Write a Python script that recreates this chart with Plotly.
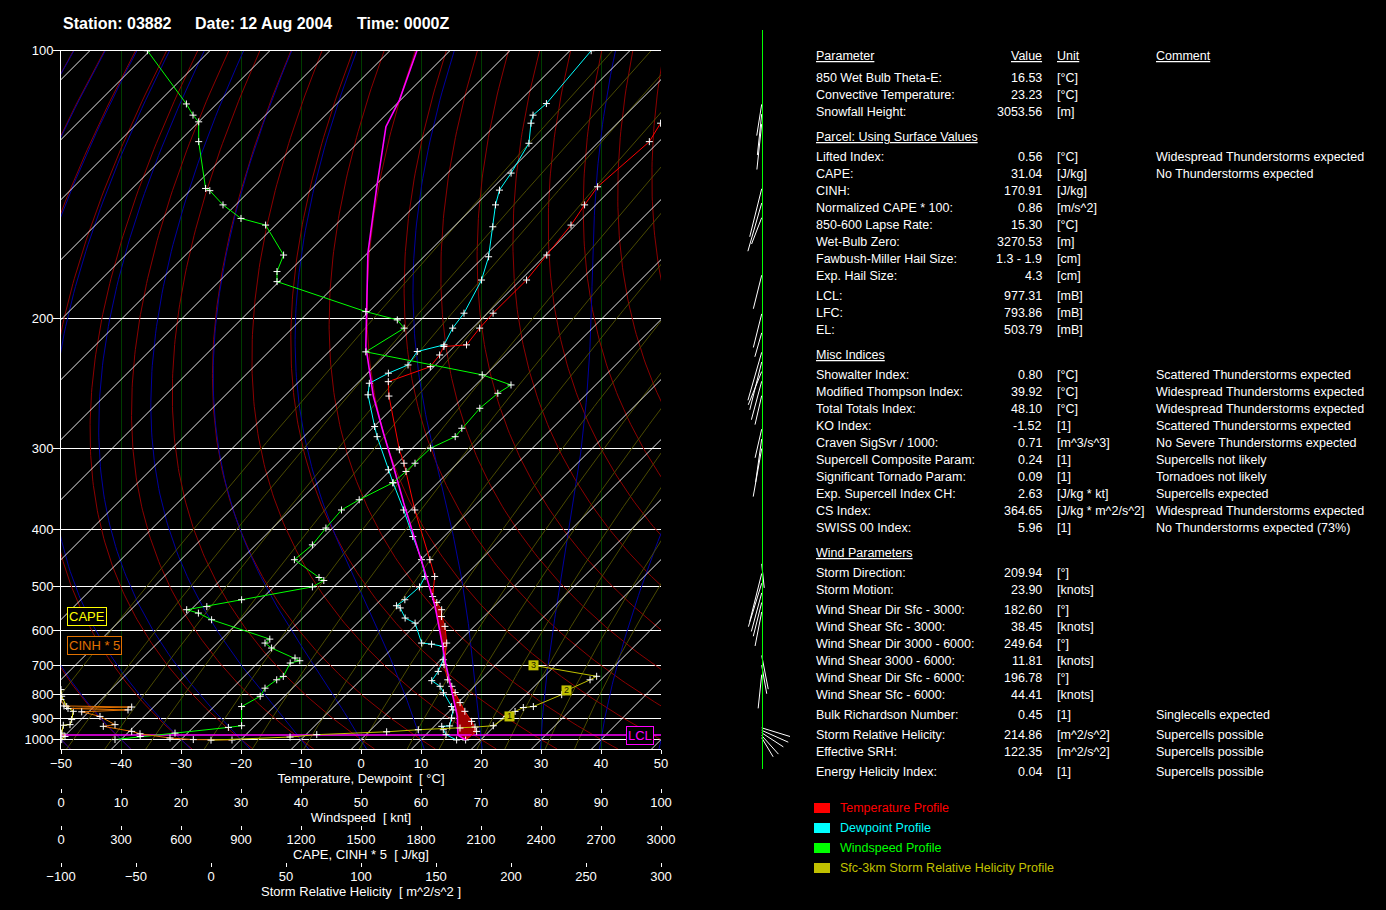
import numpy as np
import plotly.graph_objects as go

FONT = "Liberation Sans, Arial, sans-serif"
W, H = 1386, 910
# frame of the skew-T diagram in pixels
FL, FR, FT, FB = 61, 661, 50.7, 749
P_TOP, P_BOT = 100, 1050

# ---- sounding data ----
temp_p = [1002, 959, 912, 868, 832, 793, 770, 747, 697, 633,
          589, 565, 549, 533, 520, 479.6, 449, 372.5, 315.8, 301.7,
          253, 241.8, 230.8, 222.7, 217.1, 216.0, 205.5, 196.7, 178.9, 166.9,
          153.9, 145.9, 139.2, 124.2, 118.7, 100]
temp_t = [17.5, 17.9, 15.4, 12.6, 10.35, 7.85, 6.25, 4.5, 1.35, -1.8,
          -4.87, -7.08, -8.2, -10.2, -11.9, -14.9, -18.5, -29.3, -38.9, -41.9,
          -52.6, -55.1, -50.6, -51.0, -51.7, -48.2, -48.8, -49.05, -49.0, -49.8,
          -50.75, -51.85, -52.7, -51.6, -52.8, -54.0]

dew_p = [1002, 975, 951, 935, 933, 897, 862, 848, 794, 770,
         750, 718.6, 681.6, 642.5, 636, 633, 580.8, 568.5, 545, 540,
         526.8, 500, 479.6, 449, 411, 372.5, 338, 323, 288.7, 279.2,
         252, 243, 235.5, 229.6, 220.4, 216.0, 205.5, 196.7, 178.9, 167.7,
         154.6, 145.9, 140.4, 134.4, 124.7, 118.7, 116.4, 113.2, 100]
dew_t = [16.0, 13.35, 12.07, 11.25, 12.5, 11.5, 10.4, 9.6, 5.95, 4.3,
         1.97, 1.5, 0.4, -1.8, -4.15, -5.98, -10.4, -12.9, -15.4, -16.4,
         -16.0, -15.7, -16.5, -19.9, -25.2, -31.15, -37.45, -40.4, -47.8, -49.9,
         -56.3, -58.0, -56.5, -54.6, -55.3, -51.95, -53.3, -53.9, -56.5, -59.2,
         -63.5, -66.7, -68.5, -69.4, -71.4, -74.4, -75.4, -75.1, -76.45]

parcel_p = [1002, 977.31, 890, 758.6, 692, 632, 542, 493, 426.8, 363.3,
            315.8, 285.5, 253, 226.1, 217.1, 166.1, 139.2, 119.7, 112.2, 100]
parcel_t = [17.5, 15.4, 12.2, 5.4, 1.35, -2.65, -9.8, -14.8, -22.8, -32.3,
            -40.8, -47.3, -55.2, -62.1, -64.7, -79.9, -89.5, -98.0, -100.2, -105.5]

wind_p = [100, 113.3, 116.4, 118.3, 124.2, 139.8, 140.6, 145.9, 151.2, 153.9,
          166.9, 174.7, 179.7, 195.8, 200.6, 205.5, 220.6, 236.7, 244.3, 250.8,
          263.1, 280.8, 288.7, 300.0, 315.8, 324.9, 338, 359, 372.5, 398.1,
          424.1, 449, 481.5, 487.4, 500, 526.8, 542, 549, 556.8, 572.6,
          622.2, 633, 647, 676.3, 684.6, 691.8, 735.3, 747, 776.8, 807,
          848, 932, 940, 967.5, 984.3, 1000]
wind_kt = [14.4, 20.9, 22.0, 22.95, 22.95, 24.1, 24.8, 27.0, 30.0, 34.1,
           37.1, 36.0, 36.0, 50.8, 56.05, 57.2, 50.8, 70.2, 75.0, 72.8,
           69.8, 66.8, 65.7, 61.6, 59.0, 57.5, 55.3, 49.7, 46.75, 44.15,
           41.9, 38.9, 43.0, 43.8, 41.9, 30.1, 24.3, 20.95, 22.9, 25.1,
           34.8, 34.0, 35.1, 39.0, 39.8, 38.2, 37.05, 35.95, 34.0, 33.2,
           30.1, 30.1, 27.9, 19.0, 13.2, 9.0]

cape_p = [782, 807, 848, 868, 904, 927, 930, 967.5, 984, 1000]
cape_v = [0, 3.5, 28.5, 61.5, 53.5, 45, 11.5, 3.5, 20, 3.5]

cin5_p = [820, 845.5, 850, 856, 862, 870, 890, 927, 935, 959, 970.7, 992, 1000, 1002]
cin5_v = [0, 15, 353.5, 35, 335, 103.5, 195, 270, 211.5, 353.5, 395, 545, 661.5, 855]

srh_p = [1003, 987, 975, 961, 951, 943, 938.5, 932, 890, 868.5,
         852, 848, 801, 785, 747, 735, 699]
srh_v = [0.0, 52.7, 70.5, 117.1, 138.2, 166, 176, 188.2, 197.1, 202.7,
         208.2, 214.9, 233.8, 237.1, 252.7, 257.1, 214.9]
km_text = ["1", "2", "3"]
km_p = [890, 785, 699]
km_srh = [199, 237, 215]

LCL_P = 977.31
EL_P = 503.79

barb_p = [113.4, 116.1, 118.9, 139.9, 145.2, 150.9, 176.5, 197.1, 208.4, 220.9,
          227.5, 234.3, 241.5, 252.7, 281.6, 290.9, 300.4, 456.4, 473.9, 492.6,
          512.3, 532.8, 554.1, 668.8, 698.6, 729.4, 942, 954, 966, 979.5, 990.6]
barb_dir = [189, 186, 186, 194, 196, 201, 194, 194, 196, 196,
            194, 202, 195, 193, 193, 188, 190, 174, 194, 197,
            195, 194, 191, 169, 170, 186, 107, 114, 123, 138, 149]
barb_len = [31.7, 41.2, 45.9, 49.5, 50.1, 28.2, 34.6, 34.6, 24.9, 49.9,
            49.4, 35.9, 39.8, 29.7, 29.4, 43.8, 48.8, 24.1, 49.7, 45.5,
            39.9, 34.8, 34.7, 34.3, 29.0, 33.9, 29.6, 29.1, 25.8, 25.0, 22.2]

p_levels = [100, 200, 300, 400, 500, 600, 700, 800, 900, 1000]
height_levels = ["16510m", "12010m", "9350m", "7330m", "5670m", "4255m",
                 "3025m", "1936m", "950m"]

# ---- text panel ----
params = ["850 Wet Bulb Theta-E:", "Convective Temperature:", "Snowfall Height:",
          "Lifted Index:", "CAPE:", "CINH:", "Normalized CAPE * 100:",
          "850-600 Lapse Rate:", "Wet-Bulb Zero:", "Fawbush-Miller Hail Size:",
          "Exp. Hail Size:", "LCL:", "LFC:", "EL:",
          "Showalter Index:", "Modified Thompson Index:", "Total Totals Index:",
          "KO Index:", "Craven SigSvr / 1000:", "Supercell Composite Param:",
          "Significant Tornado Param:", "Exp. Supercell Index CH:", "CS Index:",
          "SWISS 00 Index:",
          "Storm Direction:", "Storm Motion:", "Wind Shear Dir Sfc - 3000:",
          "Wind Shear Sfc - 3000:", "Wind Shear Dir 3000 - 6000:",
          "Wind Shear 3000 - 6000:", "Wind Shear Dir Sfc - 6000:",
          "Wind Shear Sfc - 6000:", "Bulk Richardson Number:",
          "Storm Relative Helicity:", "Effective SRH:", "Energy Helicity Index:"]
values = ["16.53", "23.23", "3053.56",
          "0.56", "31.04", "170.91", "0.86", "15.30", "3270.53", "1.3 - 1.9",
          "4.3", "977.31", "793.86", "503.79",
          "0.80", "39.92", "48.10", "-1.52", "0.71", "0.24", "0.09", "2.63",
          "364.65", "5.96",
          "209.94", "23.90", "182.60", "38.45", "249.64", "11.81", "196.78",
          "44.41", "0.45", "214.86", "122.35", "0.04"]
units = ["[°C]", "[°C]", "[m]",
         "[°C]", "[J/kg]", "[J/kg]", "[m/s^2]", "[°C]", "[m]", "[cm]", "[cm]",
         "[mB]", "[mB]", "[mB]",
         "[°C]", "[°C]", "[°C]", "[1]", "[m^3/s^3]", "[1]", "[1]", "[J/kg * kt]",
         "[J/kg * m^2/s^2]", "[1]",
         "[°]", "[knots]", "[°]", "[knots]", "[°]", "[knots]", "[°]", "[knots]",
         "[1]", "[m^2/s^2]", "[m^2/s^2]", "[1]"]
comments = ["", "", "",
            "Widespread Thunderstorms expected", "No Thunderstorms expected",
            "", "", "", "", "", "", "", "", "",
            "Scattered Thunderstorms expected", "Widespread Thunderstorms expected",
            "Widespread Thunderstorms expected", "Scattered Thunderstorms expected",
            "No Severe Thunderstorms expected", "Supercells not likely",
            "Tornadoes not likely", "Supercells expected",
            "Widespread Thunderstorms expected", "No Thunderstorms expected (73%)",
            "", "", "", "", "", "", "", "",
            "Singlecells expected", "Supercells possible", "Supercells possible",
            "Supercells possible"]
row_y = [78, 95, 112, 157, 174, 191, 208, 225, 242, 259, 276, 296, 313, 330,
         375, 392, 409, 426, 443, 460, 477, 494, 511, 528,
         573, 590, 610, 627, 644, 661, 678, 695, 715, 735, 752, 772]
sections = [("Parameter", 56), ("Parcel: Using Surface Values", 137),
            ("Misc Indices", 355), ("Wind Parameters", 553)]

legend_names = ["Temperature Profile", "Dewpoint Profile", "Windspeed Profile",
                "Sfc-3km Storm Relative Helicity Profile"]

RED, CYAN, GREEN, OLIVE = "#ff0000", "#00ffff", "#00ff00", "#c0c000"
YELLOW, ORANGE, MAGENTA = "#ffff00", "#e07000", "#ff00ff"
legend_colors = [RED, CYAN, GREEN, OLIVE]


def yv(p):
    return np.asarray(p, dtype=float) ** -0.35


Y_TOP, Y_BOT = float(yv(P_TOP)), float(yv(P_BOT))
PXY = (FB - FT) / (Y_TOP - Y_BOT)        # px per y unit
SKEW = PXY / ((FR - FL) / 100.0)          # isotherms at 45 degrees


def skx(t, p):
    return np.asarray(t, dtype=float) + SKEW * (yv(p) - float(yv(1000)))


def xp(x):
    return x / W


def ypp(y):
    return 1 - y / H


def curves_trace(curves, color, width=1.0):
    xs, ys = [], []
    for t, p in curves:
        xs += list(skx(t, p)) + [None]
        ys += list(yv(p)) + [None]
    return go.Scatter(x=xs, y=ys, mode="lines", line=dict(color=color, width=width),
                      hoverinfo="skip", showlegend=False)


def moist_adiabat(t0, pres):
    def dtdp(t, p):
        es = 6.112 * np.exp(17.67 * (t - 273.15) / (t - 29.65))
        rs = 0.622 * es / (p - es)
        return (287.04 * t + 2.501e6 * rs) / (
            p * (1005.7 + 2.501e6 ** 2 * rs * 0.622 / (287.04 * t * t)))

    out = [t0 + 273.15]
    t = t0 + 273.15
    for pa, pb in zip(pres[:-1], pres[1:]):
        n = 4
        h = (pb - pa) / n
        p = pa
        for _ in range(n):
            k1 = dtdp(t, p)
            k2 = dtdp(t + h * k1 / 2, p + h / 2)
            k3 = dtdp(t + h * k2 / 2, p + h / 2)
            k4 = dtdp(t + h * k3, p + h)
            t += h * (k1 + 2 * k2 + 2 * k3 + k4) / 6
            p += h
        out.append(t)
    return np.array(out) - 273.15


pg = np.geomspace(P_TOP, P_BOT, 160)

fig = go.Figure()

# dry adiabats
dry = [(th * (pg / 1000.0) ** 0.2857 - 273.15, pg) for th in 273.15 + 10 * np.arange(-8, 15)]
fig.add_trace(curves_trace(dry, "#8c0000"))

# moist adiabats
pu = np.geomspace(1000, P_TOP, 120)
pdn = np.geomspace(1000, P_BOT, 6)
moist = []
for t0 in range(-60, 51, 10):
    tu = moist_adiabat(t0, pu)
    td = moist_adiabat(t0, pdn)
    moist.append((np.concatenate([td[::-1], tu[1:]]), np.concatenate([pdn[::-1], pu[1:]])))
fig.add_trace(curves_trace(moist, "#0000a0"))

# mixing ratio lines
mix = []
for w in [0.02, 0.05, 0.1, 0.2, 0.5, 1, 2, 4, 7, 10, 15, 20, 30, 40]:
    e = w * pg / (622.0 + w)
    le = np.log(e / 6.112)
    mix.append((243.5 * le / (17.67 - le), pg))
fig.add_trace(curves_trace(mix, "#4a4a00"))

# isotherms
iso = [(np.array([t, t]), np.array([P_BOT, P_TOP])) for t in range(-170, 51, 10)]
fig.add_trace(curves_trace(iso, "#ffffff", 0.9))

# CAPE / CIN areas between parcel and environment
pf = np.geomspace(temp_p[0], EL_P, 240)


def interp_t(pp, pdat, tdat):
    pdat = np.asarray(pdat, float)
    tdat = np.asarray(tdat, float)
    o = np.argsort(pdat)
    return np.interp(np.log(pp), np.log(pdat[o]), tdat[o])


x_env = skx(interp_t(pf, temp_p, temp_t), pf)
x_par = skx(interp_t(pf, parcel_p, parcel_t), pf)
x_max = np.maximum(x_env, x_par)
yf = yv(pf)
fig.add_trace(go.Scatter(x=np.concatenate([x_par, x_max[::-1]]),
                         y=np.concatenate([yf, yf[::-1]]), mode="lines", fill="toself",
                         fillcolor="#a00000", line=dict(width=0), hoverinfo="skip",
                         showlegend=False))
fig.add_trace(go.Scatter(x=np.concatenate([x_env, x_max[::-1]]),
                         y=np.concatenate([yf, yf[::-1]]), mode="lines", fill="toself",
                         fillcolor="#009000", line=dict(width=0), hoverinfo="skip",
                         showlegend=False))

tick_marker = dict(symbol="cross-thin", size=5, line=dict(color="white", width=1))


def profile(x, p, color, xaxis="x", marks=True, width=1.0):
    return go.Scatter(x=x, y=yv(p), xaxis=xaxis, yaxis="y",
                      mode="lines+markers" if marks else "lines",
                      line=dict(color=color, width=width),
                      marker=tick_marker, hoverinfo="skip", showlegend=False)


# LCL line
fig.add_trace(go.Scatter(x=[-50, 50], y=[float(yv(LCL_P))] * 2, mode="lines",
                         line=dict(color=MAGENTA, width=1.5), hoverinfo="skip",
                         showlegend=False))
fig.add_trace(profile(skx(dew_t, dew_p), dew_p, CYAN))
fig.add_trace(profile(skx(temp_t, temp_p), temp_p, RED))
fig.add_trace(profile(skx(parcel_t, parcel_p), parcel_p, MAGENTA, marks=False, width=1.6))

# windspeed, CAPE, CIN*5, SRH profiles on their own horizontal scales
fig.add_trace(profile(wind_kt, wind_p, GREEN, xaxis="x2"))
fig.add_trace(profile(cape_v, cape_p, YELLOW, xaxis="x3"))
fig.add_trace(profile(cin5_v, cin5_p, ORANGE, xaxis="x3"))
fig.add_trace(profile(srh_v, srh_p, OLIVE, xaxis="x4"))
fig.add_trace(go.Scatter(x=km_srh, y=yv(km_p), xaxis="x4", yaxis="y", mode="markers+text",
                         text=km_text, textposition="middle center",
                         textfont=dict(color="#202000", size=9, family=FONT),
                         marker=dict(symbol="square", size=10, color=OLIVE),
                         hoverinfo="skip", showlegend=False))

# wind barbs column
bx, by = [], []
for p, d, ln in zip(barb_p, barb_dir, barb_len):
    y0 = float(yv(p))
    bx += [0, ln * np.sin(np.radians(d)), None]
    by += [y0, y0 + ln * np.cos(np.radians(d)) / PXY, None]
fig.add_trace(go.Scatter(x=bx, y=by, xaxis="x5", yaxis="y3", mode="lines",
                         line=dict(color="white", width=1), hoverinfo="skip",
                         showlegend=False))

tickfont = dict(color="white", size=13, family=FONT)
titlefont = dict(color="white", size=13, family=FONT)
dom_x = [xp(FL), xp(FR)]
dom_y = [ypp(FB), ypp(FT)]


def bottom_axis(rng, step, title, y_px):
    return dict(overlaying="x", anchor="free", position=ypp(y_px), range=rng,
                tickvals=list(np.arange(rng[0], rng[1] + step / 2, step)),
                ticks="outside", ticklen=4, tickcolor="white", tickfont=tickfont,
                ticklabelstandoff=-2,
                showgrid=False, zeroline=False, showline=False,
                title=dict(text=title, font=titlefont, standoff=0))


annotations = []
# title
for txt, x0 in [("Station: 03882", 61), ("Date: 12 Aug 2004", 193), ("Time: 0000Z", 355)]:
    annotations.append(dict(text="<b>%s</b>" % txt, x=xp(x0), y=ypp(23), xref="paper",
                            yref="paper", xanchor="left", yanchor="middle",
                            showarrow=False, font=dict(color="white", size=16, family=FONT)))

tfont = dict(color="white", size=12.5, family=FONT)


def txt(text, x, y, anchor="left", font=tfont):
    annotations.append(dict(text=text, x=xp(x), y=ypp(y), xref="paper", yref="paper",
                            xanchor=anchor, yanchor="middle", showarrow=False, font=font))


for s, y in sections:
    txt("<u>%s</u>" % s, 814, y)
txt("<u>Value</u>", 1044, 56, "right")
txt("<u>Unit</u>", 1055, 56)
txt("<u>Comment</u>", 1154, 56)
for pname, val, unit, com, y in zip(params, values, units, comments, row_y):
    txt(pname, 814, y)
    txt(val, 1044, y, "right")
    txt(unit, 1055, y)
    if com:
        txt(com, 1154, y)

shapes = []
for i, (name, col) in enumerate(zip(legend_names, legend_colors)):
    yc = 808 + 20 * i
    shapes.append(dict(type="rect", xref="paper", yref="paper", x0=xp(814), x1=xp(830),
                       y0=ypp(yc + 5), y1=ypp(yc - 5), fillcolor=col, line=dict(width=0)))
    txt(name, 838, yc, font=dict(color=col, size=12.5, family=FONT))

# boxed labels
box = dict(xref="paper", yref="paper", xanchor="left", yanchor="middle",
           showarrow=False, bgcolor="black", borderwidth=1, borderpad=1)
annotations.append(dict(box, text="CAPE", x=xp(67), y=ypp(616), bordercolor=YELLOW,
                        font=dict(color=YELLOW, size=13, family=FONT)))
annotations.append(dict(box, text="CINH * 5", x=xp(67), y=ypp(645.5), bordercolor=ORANGE,
                        font=dict(color=ORANGE, size=13, family=FONT)))
annotations.append(dict(text="LCL", x=46.5, y=float(yv(LCL_P)), xref="x", yref="y",
                        xanchor="center", yanchor="middle", showarrow=False,
                        bgcolor="black", bordercolor=MAGENTA, borderwidth=1, borderpad=1,
                        font=dict(color=MAGENTA, size=13, family=FONT)))

fig.update_layout(
    width=W, height=H, autosize=False,
    margin=dict(l=0, r=0, t=0, b=0, pad=0, autoexpand=False),
    paper_bgcolor="black", plot_bgcolor="black",
    showlegend=False,
    font=dict(family=FONT, color="white"),
    xaxis=dict(domain=dom_x, range=[-50, 50], anchor="y",
               tickvals=list(range(-50, 51, 10)), ticks="outside", ticklen=4,
               tickcolor="white", tickfont=tickfont, ticklabelstandoff=-2,
               showgrid=True, gridcolor="#003c00",
               zeroline=False, showline=True, linecolor="white", linewidth=1, mirror=True,
               title=dict(text="Temperature, Dewpoint  [ °C]", font=titlefont, standoff=0)),
    xaxis2=bottom_axis([0, 100], 10, "Windspeed  [ knt]", 788),
    xaxis3=bottom_axis([0, 3000], 300, "CAPE, CINH * 5  [ J/kg]", 825),
    xaxis4=bottom_axis([-100, 300], 50, "Storm Relative Helicity  [ m^2/s^2 ]", 862),
    yaxis=dict(domain=dom_y, range=[Y_BOT, Y_TOP], anchor="x",
               tickvals=list(yv(p_levels)), ticktext=[str(p) for p in p_levels],
               ticks="outside", ticklen=7, tickcolor="white", tickfont=tickfont,
               ticklabelstandoff=-3,
               showgrid=True, gridcolor="white", gridwidth=1, zeroline=False,
               showline=True, linecolor="white", linewidth=1),
    yaxis2=dict(overlaying="y", side="right", anchor="x", range=[Y_BOT, Y_TOP],
                tickvals=list(yv(p_levels[:-1])), ticktext=height_levels,
                ticks="outside", ticklen=5, tickcolor="white", tickfont=tickfont,
                showgrid=False, zeroline=False, showline=True, linecolor="white",
                linewidth=1),
    xaxis5=dict(domain=[xp(735), xp(805)], range=[-26.7, 43.3], anchor="y3",
                visible=False),
    yaxis3=dict(domain=[ypp(769), ypp(30)],
                range=[Y_BOT - (769 - FB) / PXY, Y_TOP + (FT - 30) / PXY],
                anchor="free", position=xp(761.7), showline=True, linecolor=GREEN,
                linewidth=1, showticklabels=False, ticks="", showgrid=False,
                zeroline=False),
    annotations=annotations,
    shapes=shapes,
)

fig.write_html("out.html", config={"displayModeBar": False, "responsive": False},
               post_script="document.body.style.margin='0';"
                           "document.body.style.background='black';")
